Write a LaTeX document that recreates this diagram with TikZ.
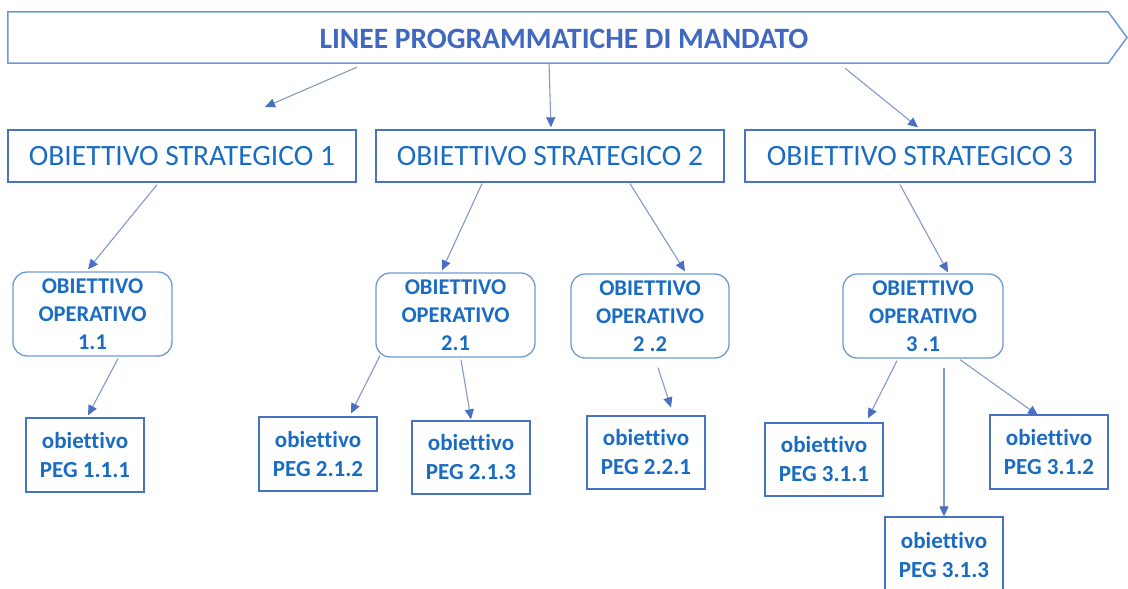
\documentclass[tikz,border=0pt]{standalone}
\usepackage{fontspec}
\setmainfont{Carlito}[Ligatures=NoCommon]
\usetikzlibrary{calc,arrows.meta}
\definecolor{txtblue}{HTML}{1A6CC2}
\definecolor{hdrblue}{HTML}{4068C0}
\definecolor{boxblue}{HTML}{4A72C2}
\definecolor{rndblue}{HTML}{6E9AD4}
\definecolor{lineblue}{HTML}{8498C8}
\definecolor{headblue}{HTML}{4A6FC4}
\begin{document}
\begin{tikzpicture}[x=1pt,y=-1pt,
  stratbox/.style={draw=boxblue,line width=1.3pt,minimum width=#1,minimum height=52pt,inner sep=0pt,text=txtblue,font=\fontsize{29.5}{34}\selectfont},
  opbox/.style={draw=rndblue,line width=1.3pt,rounded corners=14pt,minimum width=#1,minimum height=84pt,inner sep=0pt,text=txtblue,align=center,font=\fontsize{22.5}{28}\selectfont\bfseries},
  pegbox/.style={draw=boxblue,line width=1.3pt,minimum width=118pt,minimum height=#1,inner sep=0pt,text=txtblue,align=center,font=\fontsize{23}{29}\selectfont\bfseries},
  arr/.style={draw=lineblue,line width=1.1pt,-{Triangle[length=10pt,width=9pt,color=headblue]}}]
\useasboundingbox (0,0) rectangle (1128,589);
% header
\node[minimum width=1100pt,minimum height=51pt,inner sep=0pt] (hdr) at (558,37.5) {};
\draw[draw=rndblue,line width=1.5pt] (hdr.north west) -- (hdr.north east) -- (1127,37.5) -- (hdr.south east) -- (hdr.south west) -- cycle;
\node[text=hdrblue,font=\fontsize{29.5}{34}\selectfont\bfseries] (hdrtxt) at (564,39) {LINEE PROGRAMMATICHE DI MANDATO};
% strategic
\node[stratbox=348pt] (s1) at (182,156) {OBIETTIVO STRATEGICO 1};
\node[stratbox=348pt] (s2) at (550,156) {OBIETTIVO STRATEGICO 2};
\node[stratbox=350pt] (s3) at (920,156) {OBIETTIVO STRATEGICO 3};
% operative
\node[opbox=159pt] (o11) at (92.5,314) {OBIETTIVO\\OPERATIVO\\1.1};
\node[opbox=159pt] (o21) at (455.5,315) {OBIETTIVO\\OPERATIVO\\2.1};
\node[opbox=158pt] (o22) at (650,316) {OBIETTIVO\\OPERATIVO\\2 .2};
\node[opbox=160pt] (o31) at (923,316) {OBIETTIVO\\OPERATIVO\\3 .1};
% peg
\node[pegbox=74pt] (p111) at (85,455) {obiettivo\\PEG 1.1.1};
\node[pegbox=74pt] (p212) at (318,454) {obiettivo\\PEG 2.1.2};
\node[pegbox=73pt] (p213) at (471,457.5) {obiettivo\\PEG 2.1.3};
\node[pegbox=73pt] (p221) at (646,452.5) {obiettivo\\PEG 2.2.1};
\node[pegbox=73pt] (p311) at (824,459.5) {obiettivo\\PEG 3.1.1};
\node[pegbox=74pt] (p312) at (1049,452) {obiettivo\\PEG 3.1.2};
\node[pegbox=75pt,text depth=0pt] (p313) at (944,554.5) {obiettivo\\PEG 3.1.3};
% connectors
\coordinate (t1) at (265,107);
\draw[arr] ($(hdr.south)+(-201,4)$) -- (t1);
\draw[arr] ($(hdr.south)+(-9,0)$) -- ($(s2.north)+(1,-2)$);
\draw[arr] ($(hdr.south)+(287,5)$) -- ($(s3.north)+(-2,-2)$);
\draw[arr] ($(s1.south)+(-25,2)$) -- ($(o11.north)+(-4.5,-2)$);
\draw[arr] ($(s2.south)+(-68,1)$) -- ($(o21.north)+(-13.5,-2)$);
\draw[arr] ($(s2.south)+(80,1)$) -- ($(o22.north)+(35,-2)$);
\draw[arr] ($(s3.south)+(-20,2)$) -- ($(o31.north)+(25,-1)$);
\draw[arr] ($(o11.south)+(25.5,2)$) -- ($(p111.north)+(3,-2)$);
\draw[arr] ($(o21.south)+(-75.5,-2)$) -- ($(p212.north)+(33,-3)$);
\draw[arr] ($(o21.south)+(5.5,2)$) -- ($(p213.north)+(0,-1)$);
\draw[arr] ($(o22.south)+(8,9)$) -- ($(p221.north)+(25,-8)$);
\draw[arr] ($(o31.south)+(-26,2)$) -- ($(p311.north)+(44,-4)$);
\draw[arr] ($(o31.south)+(21,9)$) -- ($(p313.north)+(0,0)$);
\draw[arr] ($(o31.south)+(37,1)$) -- ($(p312.north)+(-11,1)$);
\end{tikzpicture}
\end{document}
